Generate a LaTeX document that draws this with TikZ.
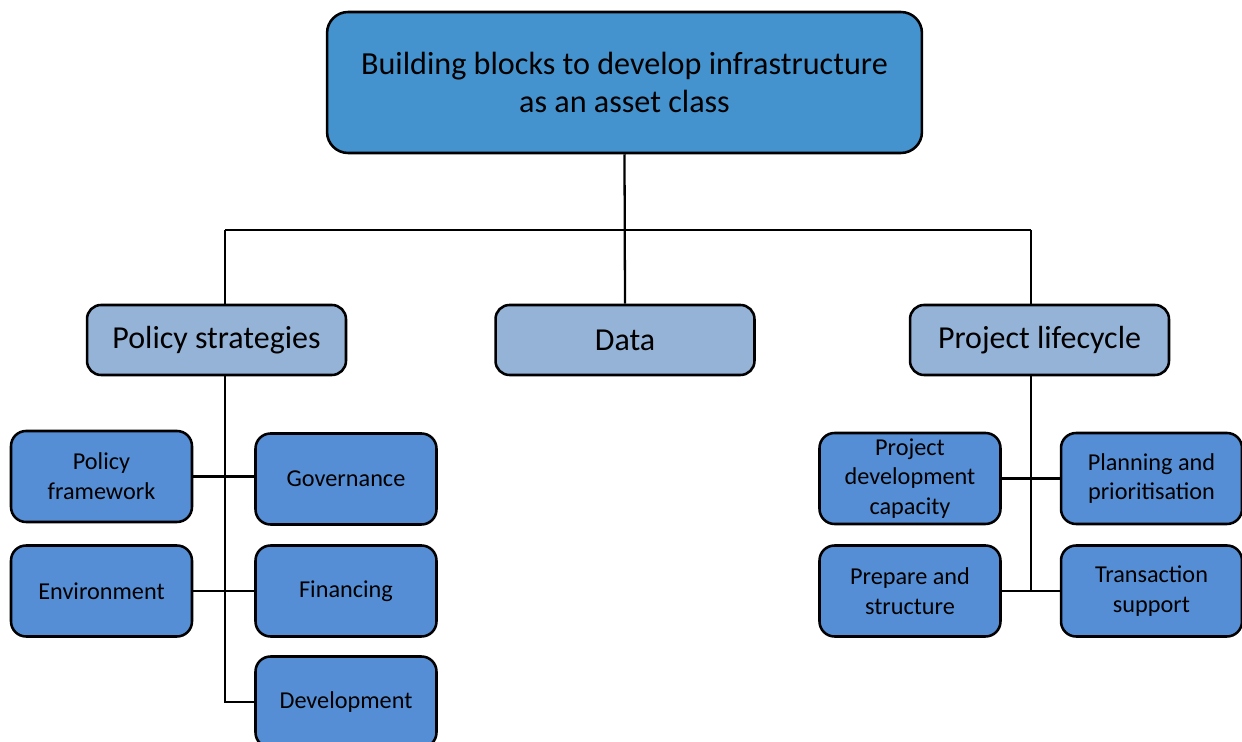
\documentclass[tikz,border=0pt]{standalone}
\usepackage{fontspec}
\setmainfont{Carlito}
\begin{document}
\begin{tikzpicture}[x=0.02cm,y=-0.02cm,
  box/.style={draw=black, line width=1.45pt, align=center, text=black, inner sep=2pt},
  rootbox/.style={box, fill=rootblue, rounded corners=0.42cm, minimum width=11.9cm, minimum height=2.82cm, font=\fontsize{18.3}{21.5}\selectfont},
  midbox/.style={box, fill=midblue, rounded corners=0.28cm, minimum width=5.18cm, minimum height=1.4cm, font=\fontsize{18.2}{21}\selectfont},
  leafbox/.style={box, fill=leafblue, rounded corners=0.3cm, minimum width=3.62cm, minimum height=1.82cm, font=\fontsize{13.8}{17}\selectfont},
  link/.style={draw=black, line width=1.3pt}]
\definecolor{rootblue}{HTML}{4493CE}
\definecolor{midblue}{HTML}{95B3D7}
\definecolor{leafblue}{HTML}{558ED5}
\clip (0,0) rectangle (1242,742);
\fill[white] (0,0) rectangle (1242,742);

% root
\node[rootbox] (root) at (624.5,82.5) {Building blocks to develop infrastructure\\as an asset class};

% second level
\node[midbox] (pol) at (216.5,340) {Policy strategies};
\node[midbox] (data) at (625,340) {Data};
\node[midbox] (plc) at (1039.5,340) {Project lifecycle};

% policy branch
\node[leafbox] (pf) at (101.5,476.5) {Policy\\framework};
\node[leafbox] (gov) at (346,479) {Governance};
\node[leafbox] (env) at (101.5,591) {Environment};
\node[leafbox] (fin) at (346,591) {Financing};
\node[leafbox] (dev) at (346,702) {Development};

% lifecycle branch
\node[leafbox] (pdc) at (910,478.5) {Project\\development\\capacity};
\node[leafbox] (ppr) at (1151.5,478.5) {Planning and\\prioritisation};
\node[leafbox] (prep) at (910,591) {Prepare and\\structure};
\node[leafbox] (tra) at (1151.5,591) {Transaction\\support};

% tree connectors
\coordinate (jL) at (225,230);
\coordinate (jR) at (1031,230);
\draw[link] (root.south) -- (data.north);
\draw[link] (jL) -- (jR);
\draw[link] (jL) -- (jL |- pol.north);
\draw[link] (jR) -- (jR |- plc.north);

% policy spine
\draw[link] (jL |- pol.south) -- (jL |- dev.west) -- (dev.west);
\draw[link] (pf.east) -- (pf.east -| gov.west);
\draw[link] (env.east) -- (fin.west);

% lifecycle spine
\draw[link] (jR |- plc.south) -- (jR |- prep.east);
\draw[link] (pdc.east) -- (ppr.west);
\draw[link] (prep.east) -- (tra.west);
\end{tikzpicture}
\end{document}
